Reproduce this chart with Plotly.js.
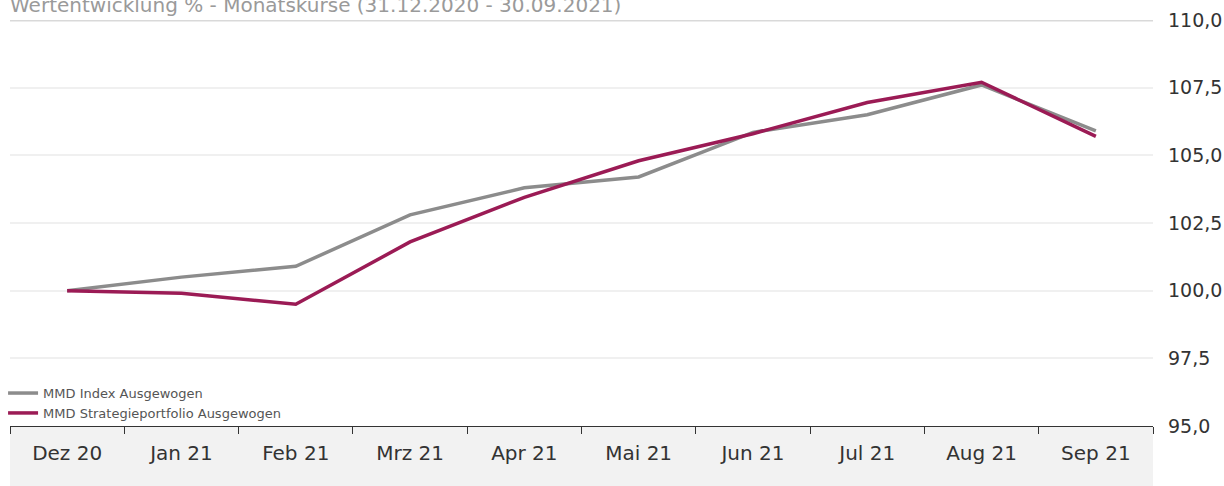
<!DOCTYPE html>
<html>
<head>
<meta charset="utf-8">
<script src="https://cdn.plot.ly/plotly-3.0.1.min.js"></script>
<style>html,body{margin:0;padding:0;background:#fff}#chart{width:1224px;height:486px}</style>
</head>
<body>
<div id="chart"></div>
<script>
const months = ["Dez 20","Jan 21","Feb 21","Mrz 21","Apr 21","Mai 21","Jun 21","Jul 21","Aug 21","Sep 21"];
const indexValues = [100.0, 100.5, 100.9, 102.8, 103.8, 104.2, 105.85, 106.5, 107.6, 105.9];
const strategyValues = [100.0, 99.9, 99.5, 101.8, 103.45, 104.8, 105.8, 106.95, 107.7, 105.7];
const yTicks = [95, 97.5, 100, 102.5, 105, 107.5, 110];
const seriesNames = ["MMD Index Ausgewogen", "MMD Strategieportfolio Ausgewogen"];
const titleText = "Wertentwicklung % - Monatskurse (31.12.2020 - 30.09.2021)";

const font = "DejaVu Sans, Open Sans, sans-serif";

const traces = [
  {x: months, y: indexValues, name: seriesNames[0], type: "scatter", mode: "lines",
   line: {color: "#8c8c8c", width: 3.5}},
  {x: months, y: strategyValues, name: seriesNames[1], type: "scatter", mode: "lines",
   line: {color: "#9b1b55", width: 3.5}}
];

const layout = {
  width: 1224, height: 486,
  margin: {l: 10, r: 71, t: 20, b: 60, autoexpand: false},
  paper_bgcolor: "#ffffff", plot_bgcolor: "#ffffff",
  separators: ",.",
  title: {text: titleText, x: 0, xanchor: "left", xref: "paper", y: 0.99, yanchor: "middle",
          font: {family: font, size: 20, color: "#9a9a9a"}},
  xaxis: {type: "category", range: [-0.5, 9.5], showgrid: false, zeroline: false,
          showline: true, linecolor: "#333", linewidth: 1,
          ticks: "outside", tickson: "boundaries", ticklen: 7, tickcolor: "#333", tickwidth: 1,
          ticklabelstandoff: 9,
          tickfont: {family: font, size: 20, color: "#333"}, fixedrange: true},
  yaxis: {side: "right", range: [95, 110], tickvals: yTicks, tickformat: ".1f",
          showgrid: true, gridcolor: "#f0f0f0", gridwidth: 2, zeroline: false, showline: false,
          ticks: "", ticklabelstandoff: 14,
          tickfont: {family: font, size: 19, color: "#333"}, fixedrange: true},
  showlegend: true,
  legend: {xref: "container", x: 0.0025, xanchor: "left", y: 0.118, yanchor: "top", bgcolor: "rgba(0,0,0,0)",
           font: {family: font, size: 13, color: "#555"}, tracegroupgap: 0, itemwidth: 30},
  shapes: [
    {type: "rect", xref: "paper", yref: "paper", x0: 0, x1: 1, y0: -0.148, y1: 0,
     fillcolor: "#f2f2f2", line: {width: 0}, layer: "below"},
    {type: "line", xref: "paper", yref: "y", x0: 0, x1: 1, y0: 110, y1: 110,
     line: {color: "#d9d9d9", width: 3}, layer: "below"}
  ]
};

Plotly.newPlot("chart", traces, layout, {displayModeBar: false, staticPlot: true});
</script>
</body>
</html>
